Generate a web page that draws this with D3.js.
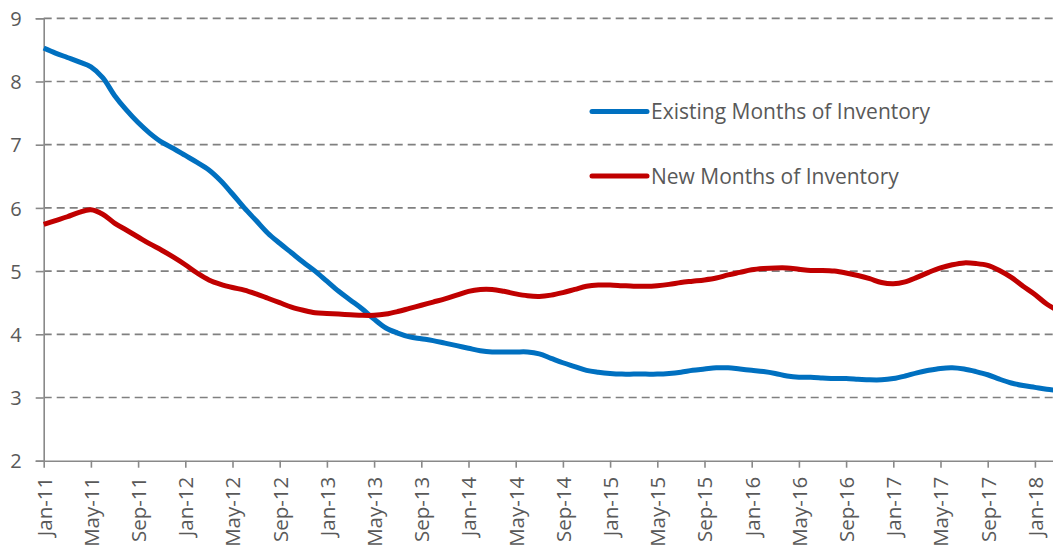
<!DOCTYPE html>
<html>
<head>
<meta charset="utf-8">
<script src="https://cdn.jsdelivr.net/npm/d3@7"></script>
<style>
  body { margin: 0; background: #fff; }
  svg { display: block; }
  text { font-family: "Open Sans", sans-serif; fill: #595959; }
</style>
</head>
<body>
<svg id="chart" width="1053" height="553"></svg>
<script>
// monthly values, Jan-11 .. Mar-18
let existing = [8.53, 8.45, 8.38, 8.31, 8.23, 8.06, 7.78, 7.55, 7.35, 7.18, 7.04, 6.94,
  6.83, 6.72, 6.60, 6.43, 6.22, 6.00, 5.80, 5.60, 5.44, 5.29, 5.14, 5.00,
  4.84, 4.68, 4.54, 4.40, 4.24, 4.10, 4.02, 3.96, 3.93, 3.90, 3.86, 3.82,
  3.78, 3.74, 3.72, 3.72, 3.72, 3.72, 3.69, 3.62, 3.55, 3.49, 3.43, 3.40,
  3.38, 3.37, 3.37, 3.37, 3.37, 3.38, 3.40, 3.43, 3.45, 3.47, 3.47, 3.45,
  3.43, 3.41, 3.38, 3.34, 3.32, 3.32, 3.31, 3.30, 3.30, 3.29, 3.28, 3.28,
  3.30, 3.34, 3.39, 3.43, 3.46, 3.47, 3.45, 3.41, 3.36, 3.29, 3.23, 3.19,
  3.16, 3.13, 3.11]
let newHomes = [5.74, 5.80, 5.86, 5.93, 5.97, 5.90, 5.76, 5.65, 5.54, 5.43, 5.33, 5.22,
  5.10, 4.97, 4.86, 4.79, 4.74, 4.70, 4.64, 4.57, 4.50, 4.43, 4.38, 4.34,
  4.33, 4.32, 4.31, 4.30, 4.30, 4.32, 4.36, 4.41, 4.46, 4.51, 4.56, 4.62,
  4.68, 4.71, 4.71, 4.68, 4.64, 4.61, 4.60, 4.62, 4.66, 4.71, 4.76, 4.78,
  4.78, 4.77, 4.76, 4.76, 4.77, 4.79, 4.82, 4.84, 4.86, 4.89, 4.94, 4.98,
  5.02, 5.04, 5.05, 5.05, 5.03, 5.01, 5.01, 5.00, 4.97, 4.93, 4.88, 4.82,
  4.80, 4.83, 4.90, 4.98, 5.05, 5.10, 5.13, 5.12, 5.09, 5.01, 4.90, 4.76,
  4.63, 4.48, 4.37]
let tickLabels = ["Jan-11", "May-11", "Sep-11", "Jan-12", "May-12", "Sep-12", "Jan-13", "May-13",
  "Sep-13", "Jan-14", "May-14", "Sep-14", "Jan-15", "May-15", "Sep-15", "Jan-16",
  "May-16", "Sep-16", "Jan-17", "May-17", "Sep-17", "Jan-18"]
let yTicks = [2, 3, 4, 5, 6, 7, 8, 9]
let seriesNames = ["Existing Months of Inventory", "New Months of Inventory"]
let colors = ["#0070c0", "#c00000"]

let svg = d3.select("#chart")
let plotLeft = 43.7, plotTop = 18.3, plotBottom = 460.7

let xScale = d3.scaleLinear().domain([0, existing.length - 1]).range([plotLeft, plotLeft + 86 * 11.8])
let yScale = d3.scaleLinear().domain([2, 9]).range([plotBottom, plotTop])

// dashed grid
svg.append("g")
  .selectAll("line")
  .data(yTicks.filter(d => d > 2))
  .enter()
  .append("line")
  .attr("x1", plotLeft)
  .attr("x2", 1053)
  .attr("y1", d => yScale(d))
  .attr("y2", d => yScale(d))
  .attr("stroke", "#808080")
  .attr("stroke-width", 1.7)
  .attr("stroke-dasharray", "8,5")

let yAxis = d3.axisLeft(yScale).tickValues(yTicks).tickSize(8).tickPadding(14).tickFormat(d3.format("d"))
let yAxisGroup = svg.append("g")
  .attr("transform", `translate(${plotLeft},0)`)
  .call(yAxis)
yAxisGroup.select(".domain").attr("stroke", "#898989").attr("stroke-width", 1.6)
yAxisGroup.selectAll(".tick line").attr("stroke", "#898989").attr("stroke-width", 1.6)
yAxisGroup.selectAll(".tick text")
  .style("font-size", "20px")
  .attr("fill", "#595959")
  .attr("dy", "0.36em")

let xAxis = d3.axisBottom(xScale)
  .tickValues(tickLabels.map((d, i) => i * 4))
  .tickFormat((d, i) => tickLabels[i])
  .tickSize(7)
  .tickSizeOuter(0)
let xAxisGroup = svg.append("g")
  .attr("transform", `translate(0,${plotBottom})`)
  .call(xAxis)
xAxisGroup.select(".domain").attr("stroke", "#898989").attr("stroke-width", 1.6)
xAxisGroup.selectAll(".tick line").attr("stroke", "#898989").attr("stroke-width", 1.6)
xAxisGroup.selectAll(".tick text")
  .style("font-size", "20.5px")
  .attr("fill", "#595959")
  .attr("text-anchor", "end")
  .attr("transform", "rotate(-90)")
  .attr("x", -16)
  .attr("y", 0)
  .attr("dy", "0.36em")

let line = d3.line()
  .x((d, i) => xScale(i))
  .y(d => yScale(d))
  .curve(d3.curveCatmullRom.alpha(0.5))

svg.append("path")
  .datum(existing)
  .attr("d", line)
  .attr("fill", "none")
  .attr("stroke", colors[0])
  .attr("stroke-width", 5)
  .attr("stroke-linejoin", "round")

svg.append("path")
  .datum(newHomes)
  .attr("d", line)
  .attr("fill", "none")
  .attr("stroke", colors[1])
  .attr("stroke-width", 5)
  .attr("stroke-linejoin", "round")

// legend
let legend = svg.append("g")
  .selectAll("g")
  .data(seriesNames)
  .enter()
  .append("g")
  .attr("transform", (d, i) => `translate(592,${111.5 + i * 64.5})`)
legend.append("line")
  .attr("x1", 0).attr("x2", 55)
  .attr("stroke", (d, i) => colors[i])
  .attr("stroke-width", 5)
  .attr("stroke-linecap", "round")
legend.append("text")
  .attr("x", 59)
  .attr("dy", "0.36em")
  .style("font-size", "21px")
  .text(d => d)
</script>
</body>
</html>
